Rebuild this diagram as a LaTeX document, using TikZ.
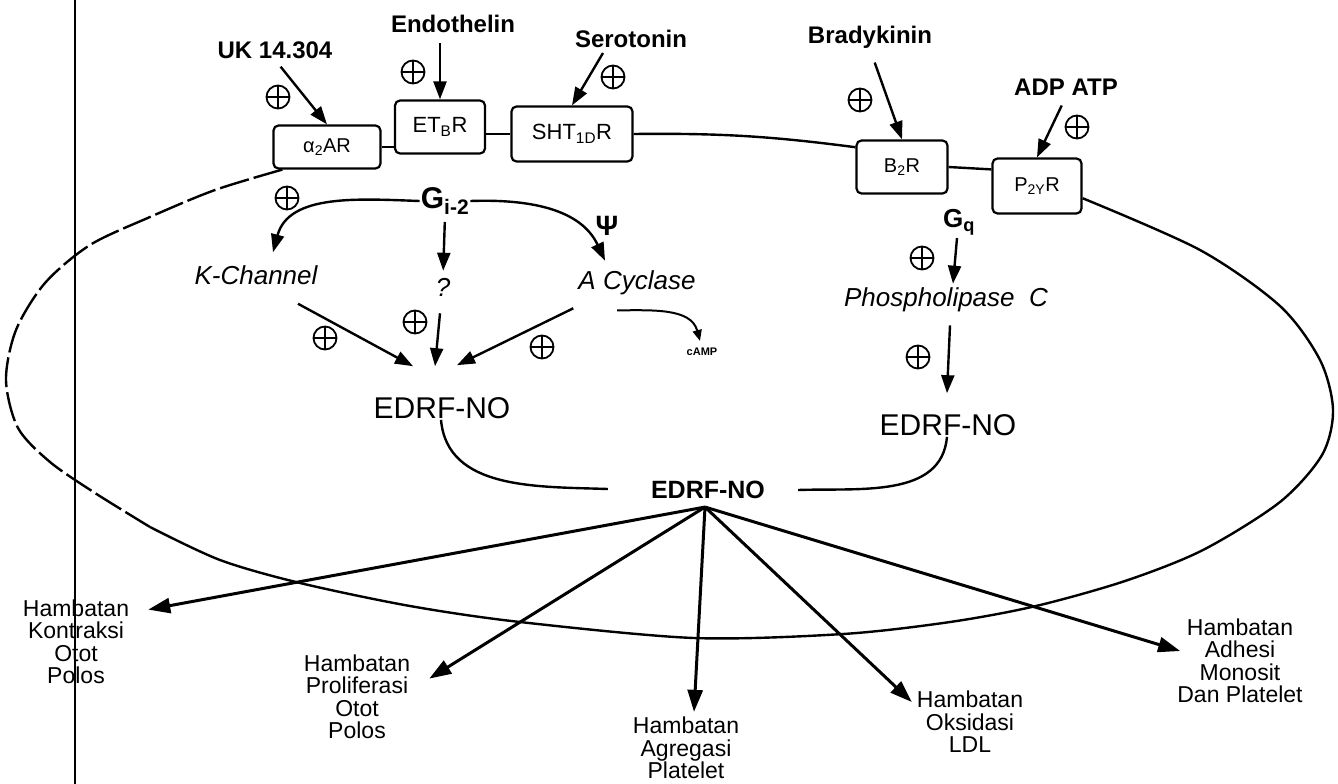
\documentclass[tikz,border=0pt]{standalone}
\usepackage{fontspec}
\setmainfont{Liberation Sans}
\usetikzlibrary{arrows.meta,calc}
\newcommand{\fsz}[1]{\fontsize{#1}{#1}\selectfont}
\begin{document}
\begin{tikzpicture}[x=1pt,y=-1pt,
  lab/.style={font=\fsz{24}\bfseries, inner sep=1pt},
  rec/.style={draw, rounded corners=5pt, line width=2.2pt, inner sep=0pt, font=\fsz{20}},
  itl/.style={font=\fsz{26}\itshape, inner sep=1pt},
  opl/.style={circle, draw, line width=1.8pt, minimum size=23pt, inner sep=0pt,
    path picture={\draw[line width=1.8pt] (path picture bounding box.north) -- (path picture bounding box.south)
      (path picture bounding box.west) -- (path picture bounding box.east);}},
  arr/.style={line width=2.4pt, -{Triangle[length=18pt,width=13pt]}},
  arrb/.style={line width=3pt, -{Triangle[length=22pt,width=15pt]}},
  arrs/.style={line width=2pt, -{Triangle[length=11pt,width=9pt]}},
  memb/.style={line width=2.4pt},
  res/.style={font=\fontsize{23}{22.5}\selectfont, align=center, inner sep=1pt},
  edrf/.style={font=\fsz{30}, inner sep=1pt}
]
\useasboundingbox (0,0) rectangle (1338,784);
\fill[white] (0,0) rectangle (1338,784);

% scan edge line
\draw[line width=2.4pt] (75,0) -- (75,784);

% ligands
\node[lab] (uk) at (275,50) {UK 14.304};
\node[lab] (endo) at (453,24) {Endothelin};
\node[lab] (sero) at (631,39) {Serotonin};
\node[lab] (brady) at (870,37) {Bradykinin};
\node[lab] (adp) at (1066,87) {ADP ATP};

% receptors
\node[rec, minimum width=107pt, minimum height=43pt] (a2) at (327,147) {α\textsubscript{2}AR};
\node[rec, minimum width=90pt, minimum height=53pt, font=\fsz{22}] (etb) at (440,127) {ET\textsubscript{B}R};
\node[rec, minimum width=121pt, minimum height=55pt, font=\fsz{22}] (sht) at (572,134) {SHT\textsubscript{1D}R};
\node[rec, minimum width=91pt, minimum height=53pt] (b2) at (902,167) {B\textsubscript{2}R};
\node[rec, minimum width=89pt, minimum height=55pt] (p2y) at (1037,186) {P\textsubscript{2Y}R};

% plus signs
\node[opl] (p1) at (278,97) {};
\node[opl] (p2) at (413,72) {};
\node[opl] (p3) at (613,77) {};
\node[opl] (p4) at (860,100) {};
\node[opl] (p5) at (1077,127) {};
\node[opl] (p6) at (287,198) {};
\node[opl] (p7) at (922,258) {};
\node[opl] (p8) at (325,338) {};
\node[opl] (p9) at (415,322) {};
\node[opl] (p10) at (542,347) {};
\node[opl] (p11) at (918,357) {};

% inner labels
\node[font=\fsz{30}\bfseries, inner sep=1pt] (gi) at (445,201) {G\textsubscript{i-2}};
\node[font=\fsz{28}\bfseries, inner sep=1pt] (psi) at (607,226) {Ψ};
\node[itl] (kch) at (256,275) {K-Channel};
\node[itl] (q) at (443,287) {?};
\node[itl] (acyc) at (637,283) {A Cyclase};
\node[font=\fsz{11}\bfseries, inner sep=1pt] (camp) at (702,352) {cAMP};
\node[font=\fsz{26}\bfseries, inner sep=1pt] (gq) at (959,222) {G\textsubscript{q}};
\node[itl] (plc) at (946,300) {Phospholipase\ \ C};
\node[edrf] (edl) at (442,408) {EDRF-NO};
\node[edrf] (edr) at (948,425) {EDRF-NO};
\node[font=\fsz{25}\bfseries, inner sep=1pt] (edc) at (708,490) {EDRF-NO};

% outcomes
\node[res] (kon) at (76,642) {Hambatan\\Kontraksi\\Otot\\Polos};
\node[res] (pro) at (357,697) {Hambatan\\Proliferasi\\Otot\\Polos};
\node[res] (agr) at (686,748) {Hambatan\\Agregasi\\Platelet};
\node[res] (oks) at (970,722) {Hambatan\\Oksidasi\\LDL};
\node[res] (adh) at (1240,661) {Hambatan\\Adhesi\\Monosit\\Dan Platelet};

% membrane between receptors
\draw[memb] (a2.east) -- (a2.east -| etb.west);
\draw[memb] (etb.east |- sht.west) -- (sht.west);
\draw[memb] (sht.east) to[bend left=4] (b2.157);
\draw[memb] (b2.east) -- (p2y.160);

% cell outline
\draw[memb, dash pattern=on 30pt off 5pt] plot[smooth] coordinates {
  ([xshift=10pt]a2.south west) (215,190) (150,217) (90,245) (45,283)
  (16,330) (6,380) (18,428) (50,462) (95,493) (150,527)};
\draw[memb] plot[smooth] coordinates {
  (150,527) (220,560) (300,583) (410,606) (520,622) (694,638) (843,634) (950,622) (1036,606)
  (1125,581) (1203,550) (1280,502) (1322,455) (1333,410) (1320,360) (1280,306) (1200,250) (p2y.-15)};

% ligand arrows
\draw[arr, shorten <=9pt] (uk.south) -- (a2.north);
\draw[arr, shorten <=9pt] (etb.north |- endo.south) -- (etb.north);
\draw[arr] ($(sero.south)+(-28,4)$) -- (sht.north);
\draw[arr, shorten <=14pt] (brady.south) -- (b2.north);
\draw[arr, shorten <=10pt] (adp.south) -- (p2y.north);

% G i-2 branches
\draw[arr] (gi.west) to[out=178, in=75] ($(kch.north)+(17,-12)$);
\draw[arr, shorten <=6pt, shorten >=6pt] (gi.south) -- (q.north);
\draw[arr] (gi.east) to[out=2, in=115] ($(acyc.north)+(-32,-9)$);

% to left EDRF-NO
\draw[arr] ($(kch.south)+(42,18)$) -- ($(edl.north)+(-29,-30)$);
\draw[arr] ($(q.south)+(-3,16)$) -- ($(edl.north)+(-7,-30)$);
\draw[arr] ($(acyc.south west)+(-4,12)$) -- ($(edl.north)+(15,-31)$);
\draw[arrs] ($(acyc.south)+(-20,14)$) to[out=0, in=105] ($(camp.north)+(-2,-6)$);

% Gq branch
\draw[arr] ($(gq.south)+(-2,2)$) -- ($(plc.north)+(7,-3)$);
\draw[arr] ($(plc.south)+(4,12)$) -- ($(edr.north)+(-1,-20)$);

% merging curves
\draw[memb] ($(edl.south)+(-1,0)$) to[out=-85, in=178] ($(edc.west)+(-42,-1)$);
\draw[memb] ($(edc.east)+(32,0)$) to[out=2, in=-95] ($(edr.south)+(-1,0)$);

% radiating effects
\coordinate (hub) at ($(edc.south)+(-3,7)$);
\draw[arrb] (hub) -- ($(kon.north east)+(18,11)$);
\draw[arrb] (hub) -- ($(pro.north east)+(18,25)$);
\draw[arrb] (hub) -- ($(agr.north)+(8,-4)$);
\draw[arrb] (hub) -- ($(oks.north west)+(-4,12)$);
\draw[arrb] (hub) -- ($(adh.west)+(4,-10)$);
\end{tikzpicture}
\end{document}
